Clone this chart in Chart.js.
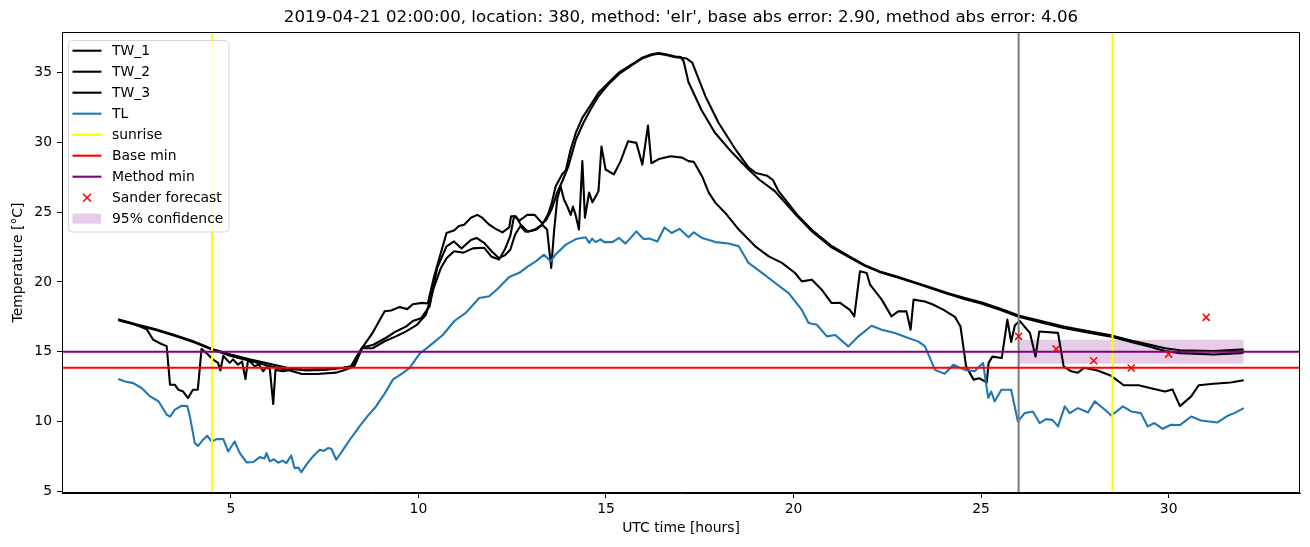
<!DOCTYPE html>
<html><head><meta charset="utf-8">
<script src="https://cdn.jsdelivr.net/npm/chart.js@4/dist/chart.umd.min.js"></script>
<style>html,body{margin:0;padding:0;background:#fff;}#wrap{position:relative;width:1310px;height:547px;}</style>
</head><body><div id="wrap"><canvas id="c" width="1310" height="547"></canvas></div>
<script>
const titleText = "2019-04-21 02:00:00, location: 380, method: 'elr', base abs error: 2.90, method abs error: 4.06";
const xTickValues = [5, 10, 15, 20, 25, 30];
const yTickValues = [5, 10, 15, 20, 25, 30, 35];
const xRange = [0.5, 33.5];
const yRange = [4.88, 37.9];

const tw1Hours = [2.0,2.5,3.0,3.5,4.0,4.5,5.0,5.5,6.0,6.5,7.0,7.5,8.0,8.25,8.5,8.8,9.14,9.4,9.67,9.85,10.07,10.3,10.5,10.75,10.95,11.15,11.4,11.55,11.75,11.95,12.15,12.3,12.45,12.58,12.72,12.85,13.0,13.15,13.3,13.45,13.55,13.66,13.83,13.93,14.06,14.2,14.37,14.6,14.8,15.08,15.35,15.7,15.96,16.22,16.4,16.6,16.85,17.0,17.07,17.2,17.55,17.9,18.35,18.8,19.1,19.5,20.1,20.5,21.0,21.5,21.9,22.3,22.8,23.2,23.6,24.1,24.57,25.0,25.5,26.0,26.6,27.2,27.8,28.5,29.0,29.5,29.9,30.3,31.2,31.9,32.0];
const tw1Temps = [17.3,16.95,16.6,16.2,15.75,15.2,14.8,14.45,14.15,13.85,13.65,13.7,13.85,13.95,15.3,15.5,16.0,16.45,16.8,17.2,17.4,18.25,21.0,22.55,22.9,22.4,23.0,23.15,22.8,22.2,21.7,21.9,22.3,23.4,24.0,23.6,23.65,23.75,24.1,24.8,25.6,26.85,27.7,28.0,29.5,30.7,31.75,32.7,33.55,34.3,35.0,35.6,36.05,36.3,36.4,36.3,36.15,36.1,35.8,34.3,32.3,30.7,29.3,28.05,27.3,26.5,24.7,23.6,22.5,21.75,21.15,20.7,20.3,19.95,19.6,19.15,18.75,18.45,18.0,17.5,17.1,16.7,16.4,16.05,15.7,15.35,15.05,14.9,14.8,14.9,14.95];

const tw2Hours = [2.0,2.5,3.0,3.5,4.0,4.5,5.0,5.5,6.0,6.5,6.9,7.3,7.8,8.1,8.3,8.5,8.78,9.1,9.4,9.67,9.95,10.2,10.4,10.6,10.75,10.95,11.2,11.45,11.75,11.95,12.15,12.3,12.45,12.55,12.7,12.9,13.1,13.3,13.4,13.55,13.7,13.85,14.0,14.2,14.4,14.6,14.8,15.08,15.35,15.7,15.96,16.22,16.4,16.6,16.85,17.0,17.15,17.3,17.65,18.0,18.45,18.8,19.0,19.3,19.45,19.6,20.1,20.5,21.0,21.5,21.9,22.3,22.8,23.2,23.6,24.1,24.57,25.0,25.5,26.0,26.6,27.2,27.8,28.5,29.0,29.5,29.9,30.3,31.2,31.9,32.0];
const tw2Temps = [17.25,16.9,16.55,16.15,15.7,15.15,14.7,14.35,14.0,13.7,13.4,13.4,13.5,13.75,14.0,15.25,15.25,15.75,16.1,16.45,16.9,17.65,19.5,21.0,21.7,22.2,22.1,22.4,22.45,21.8,21.6,22.3,23.3,24.7,24.4,24.8,24.8,24.2,24.4,25.2,26.4,27.3,28.3,30.2,31.4,32.4,33.3,34.2,34.9,35.55,36.0,36.25,36.35,36.25,36.1,36.05,36.0,35.7,33.3,31.4,29.5,28.2,27.8,27.6,27.3,26.5,24.8,23.7,22.6,21.8,21.2,20.75,20.35,20.0,19.65,19.2,18.85,18.55,18.1,17.6,17.2,16.8,16.5,16.15,15.8,15.5,15.25,15.1,15.05,15.15,15.15];

const tw3Hours = [2.0,2.4,2.76,2.93,3.15,3.29,3.38,3.51,3.6,3.73,3.86,3.99,4.12,4.22,4.35,4.53,4.66,4.72,4.8,4.97,5.06,5.19,5.3,5.39,5.46,5.64,5.75,5.86,5.95,6.04,6.13,6.19,6.39,6.7,7.0,7.5,8.0,8.2,8.43,8.78,9.1,9.27,9.5,9.7,9.85,10.1,10.25,10.42,10.75,10.96,11.08,11.22,11.4,11.57,11.7,11.89,12.06,12.24,12.42,12.47,12.6,12.73,12.92,13.1,13.3,13.43,13.54,13.62,13.7,13.79,13.88,13.97,14.06,14.12,14.19,14.28,14.37,14.44,14.55,14.64,14.8,14.88,14.99,15.21,15.39,15.59,15.81,15.97,16.12,16.21,16.41,16.72,17.03,17.2,17.34,17.56,17.74,17.92,18.18,18.54,18.98,19.34,19.69,20.04,20.22,20.49,20.75,21.01,21.24,21.5,21.62,21.77,21.95,22.04,22.35,22.61,22.79,23.01,23.12,23.2,23.5,23.7,24.0,24.3,24.45,24.6,24.8,24.95,25.15,25.2,25.3,25.55,25.7,25.8,25.9,26.03,26.3,26.45,26.55,27.05,27.2,27.4,27.58,27.75,28.1,28.45,28.8,29.2,29.5,29.9,30.1,30.3,30.6,30.8,31.2,31.65,32.0];
const tw3Temps = [17.3,17.0,16.6,15.86,15.55,15.4,12.63,12.63,12.28,12.15,11.68,12.28,12.28,15.2,14.9,14.43,14.2,13.66,14.7,14.2,14.45,14.07,14.3,13.04,14.43,13.95,14.1,13.6,13.9,13.75,11.25,13.7,13.6,13.75,13.7,13.75,13.85,13.95,15.0,16.35,17.9,17.95,18.2,18.05,18.4,18.5,18.45,20.4,23.5,23.7,24.0,24.1,24.6,24.8,24.6,24.1,23.8,23.55,23.9,24.7,24.7,24.1,23.6,23.75,24.1,23.75,21.0,23.75,25.9,26.85,25.9,25.4,24.8,25.4,24.8,23.75,28.65,24.6,26.4,25.7,26.5,29.7,28.05,27.7,28.65,30.08,29.96,28.4,31.2,28.5,28.8,29.0,28.9,28.65,28.6,27.57,26.4,25.66,24.94,23.75,22.55,21.83,21.36,20.64,20.04,20.16,19.44,18.49,18.5,18.0,17.53,20.76,20.64,19.8,18.73,17.53,17.89,17.89,16.58,18.73,18.6,18.4,18.0,17.5,16.8,13.95,13.0,13.1,12.8,14.2,14.65,14.55,17.3,15.7,16.9,17.2,16.35,14.65,16.45,16.35,13.95,13.6,13.5,13.85,13.65,13.3,12.6,12.6,12.4,12.15,12.3,11.1,11.8,12.6,12.7,12.8,12.95];

const tlHours = [2.0,2.18,2.4,2.62,2.85,3.07,3.29,3.38,3.51,3.69,3.84,3.91,4.04,4.13,4.26,4.37,4.49,4.62,4.8,4.93,5.1,5.24,5.42,5.6,5.77,5.9,5.95,6.04,6.15,6.26,6.38,6.48,6.61,6.7,6.8,6.88,7.01,7.19,7.37,7.48,7.59,7.68,7.81,7.99,8.2,8.43,8.65,8.87,9.1,9.32,9.58,9.76,10.03,10.29,10.65,10.96,11.27,11.62,11.89,12.15,12.42,12.69,12.91,13.13,13.35,13.53,13.65,13.93,14.2,14.46,14.55,14.63,14.72,14.86,14.95,15.17,15.35,15.52,15.81,16.0,16.17,16.37,16.56,16.75,16.96,17.2,17.34,17.56,17.92,18.27,18.54,18.8,19.16,19.51,19.87,20.22,20.4,20.62,20.89,21.11,21.46,21.73,22.08,22.35,22.7,23.06,23.32,23.5,23.77,24.03,24.26,24.57,24.83,25.05,25.19,25.27,25.36,25.54,25.8,25.98,26.16,26.38,26.56,26.73,26.9,27.05,27.23,27.36,27.58,27.85,28.03,28.3,28.47,28.78,29.0,29.26,29.44,29.62,29.84,30.06,30.3,30.6,30.86,31.3,31.57,31.75,32.0];
const tlTemps = [13.05,12.87,12.75,12.4,11.8,11.45,10.5,10.35,10.85,11.13,11.1,10.35,8.45,8.26,8.7,8.98,8.57,8.74,8.74,7.85,8.57,7.74,7.07,7.1,7.45,7.35,7.74,7.14,7.3,7.05,7.2,7.02,7.57,6.66,6.7,6.38,6.9,7.5,7.97,7.9,8.1,8.05,7.26,7.97,8.8,9.65,10.4,11.08,12.0,13.0,13.47,13.83,14.85,15.4,16.2,17.2,17.8,18.85,18.97,19.6,20.35,20.65,21.1,21.47,21.95,21.47,21.95,22.67,23.07,23.2,22.8,23.1,22.85,23.05,22.85,22.85,23.15,22.74,23.62,23.07,23.1,22.9,23.9,23.5,23.8,23.2,23.55,23.15,22.85,22.75,22.55,21.36,20.65,19.92,19.2,18.0,17.05,16.93,16.1,16.2,15.38,16.1,16.86,16.58,16.34,15.98,15.74,15.4,13.7,13.42,14.07,13.7,13.6,14.2,11.7,12.15,11.44,12.28,12.28,10.0,10.6,10.72,9.89,10.17,10.12,9.65,11.08,10.6,10.96,10.65,11.44,10.84,10.43,11.08,10.72,10.6,9.65,9.89,9.48,9.77,9.74,10.36,10.07,9.93,10.41,10.6,10.96];

const sunriseHours = [4.5, 28.5];
const forecastStartHour = 26;
const baseMin = 13.85;
const methodMin = 15.0;
const sanderHours = [26, 27, 28, 29, 30, 31];
const sanderTemps = [16.1, 15.2, 14.35, 13.83, 14.83, 17.46];
const bandHours = [26, 32];
const bandLower = [14.14, 14.14];
const bandUpper = [15.86, 15.86];
const legendLabels = ['TW_1', 'TW_2', 'TW_3', 'TL', 'sunrise', 'Base min', 'Method min', 'Sander forecast', '95% confidence'];

const FONT = "'DejaVu Sans', 'Liberation Sans', sans-serif";
const pts = (xs, ys) => xs.map((x, i) => ({x: x, y: ys[i]}));
const vline = x => [{x: x, y: yRange[0]}, {x: x, y: yRange[1]}];
const hline = y => [{x: xRange[0], y: y}, {x: xRange[1], y: y}];
const lineDs = (label, data, color, order, width) => ({
  label, data, borderColor: color, backgroundColor: color, borderWidth: width || 2.1,
  pointRadius: 0, pointHoverRadius: 0, tension: 0, fill: false, order,
  borderJoinStyle: 'round', borderCapStyle: 'butt'
});

const legendItems = [
  {type: 'line', color: '#000'}, {type: 'line', color: '#000'}, {type: 'line', color: '#000'},
  {type: 'line', color: '#1f77b4'}, {type: 'line', color: '#ffff00'}, {type: 'line', color: '#ff0000'},
  {type: 'line', color: '#800080'}, {type: 'marker', color: '#ff0000'}, {type: 'patch', color: 'rgba(128,0,128,0.2)'}
];

const decorPlugin = {
  id: 'decor',
  afterDraw(chart) {
    const ctx = chart.ctx, a = chart.chartArea;
    ctx.save();
    ctx.strokeStyle = '#000'; ctx.lineWidth = 1;
    ctx.strokeRect(Math.round(a.left) + 0.5, Math.round(a.top) + 0.5, Math.round(a.right - a.left) - 1, Math.round(a.bottom - a.top) - 1);
    ctx.fillStyle = '#000';
    ctx.font = '16.67px ' + FONT;
    ctx.textAlign = 'center'; ctx.textBaseline = 'middle';
    ctx.fillText(titleText, (a.left + a.right) / 2, 18);
    const lx = 68.5, ly = 40.5, lw = 160.5, lh = 191.5, r = 4;
    ctx.beginPath();
    ctx.moveTo(lx + r, ly); ctx.lineTo(lx + lw - r, ly); ctx.quadraticCurveTo(lx + lw, ly, lx + lw, ly + r);
    ctx.lineTo(lx + lw, ly + lh - r); ctx.quadraticCurveTo(lx + lw, ly + lh, lx + lw - r, ly + lh);
    ctx.lineTo(lx + r, ly + lh); ctx.quadraticCurveTo(lx, ly + lh, lx, ly + lh - r);
    ctx.lineTo(lx, ly + r); ctx.quadraticCurveTo(lx, ly, lx + r, ly); ctx.closePath();
    ctx.fillStyle = 'rgba(255,255,255,0.8)'; ctx.fill();
    ctx.strokeStyle = 'rgba(204,204,204,0.8)'; ctx.lineWidth = 1; ctx.stroke();
    ctx.font = '13.9px ' + FONT; ctx.textAlign = 'left'; ctx.textBaseline = 'middle';
    legendLabels.forEach((lab, i) => {
      const y = 50.7 + 21 * i, it = legendItems[i];
      if (it.type === 'line') {
        ctx.strokeStyle = it.color; ctx.lineWidth = 2.1;
        ctx.beginPath(); ctx.moveTo(72.5, y); ctx.lineTo(101.5, y); ctx.stroke();
      } else if (it.type === 'marker') {
        ctx.strokeStyle = it.color; ctx.lineWidth = 1.5; const s = 4;
        ctx.beginPath(); ctx.moveTo(87 - s, y - s); ctx.lineTo(87 + s, y + s);
        ctx.moveTo(87 - s, y + s); ctx.lineTo(87 + s, y - s); ctx.stroke();
      } else {
        ctx.fillStyle = it.color; ctx.fillRect(72.5, y - 5, 28.5, 10);
      }
      ctx.fillStyle = '#000';
      ctx.fillText(lab, 112, y + 1);
    });
    ctx.restore();
  }
};

const datasets = [
  {label: 'band low', data: pts(bandHours, bandLower), borderWidth: 0, pointRadius: 0, fill: false, order: 20},
  {label: '95% confidence', data: pts(bandHours, bandUpper), borderWidth: 0, pointRadius: 0,
   fill: {target: 0}, backgroundColor: 'rgba(128,0,128,0.2)', order: 19},
  lineDs('TW_1', pts(tw1Hours, tw1Temps), '#000000', 12),
  lineDs('TW_2', pts(tw2Hours, tw2Temps), '#000000', 11),
  lineDs('TW_3', pts(tw3Hours, tw3Temps), '#000000', 10),
  lineDs('TL', pts(tlHours, tlTemps), '#1f77b4', 9),
  lineDs('sunrise', vline(sunriseHours[0]), '#ffff00', 8),
  lineDs('sunrise 2', vline(sunriseHours[1]), '#ffff00', 7),
  lineDs('forecast start', vline(forecastStartHour), '#808080', 6),
  lineDs('Base min', hline(baseMin), '#ff0000', 5),
  lineDs('Method min', hline(methodMin), '#800080', 4),
  {label: 'Sander forecast', data: pts(sanderHours, sanderTemps), showLine: false, pointStyle: 'crossRot',
   pointRadius: 5, pointHoverRadius: 5, borderColor: '#ff0000', backgroundColor: '#ff0000', pointBorderWidth: 1.5, borderWidth: 1.5, order: 1}
];

const axisCommon = {
  type: 'linear',
  grid: {display: true, drawOnChartArea: false, drawTicks: true, tickLength: 5, tickColor: '#000', tickWidth: 1},
  border: {display: true, color: '#000', width: 1},
};

new Chart(document.getElementById('c'), {
  type: 'line',
  data: {datasets},
  plugins: [decorPlugin],
  options: {
    responsive: false, animation: false, devicePixelRatio: 1,
    layout: {padding: {top: 32, right: 10, left: 0, bottom: 0}},
    plugins: {legend: {display: false}, title: {display: false}, tooltip: {enabled: false}},
    scales: {
      x: Object.assign({}, axisCommon, {
        min: xRange[0], max: xRange[1],
        afterBuildTicks: s => { s.ticks = xTickValues.map(v => ({value: v})); },
        afterFit: s => { s.height = 54; },
        ticks: {color: '#000', font: {family: FONT, size: 13.9}, padding: 3, maxRotation: 0, autoSkip: false},
        title: {display: true, text: 'UTC time [hours]', color: '#000', font: {family: FONT, size: 13.9}, padding: {top: 0, bottom: 10}}
      }),
      y: Object.assign({}, axisCommon, {
        min: yRange[0], max: yRange[1],
        afterBuildTicks: s => { s.ticks = yTickValues.map(v => ({value: v})); },
        afterFit: s => { s.width = 62; },
        ticks: {color: '#000', font: {family: FONT, size: 13.9}, padding: 5, autoSkip: false},
        title: {display: true, text: 'Temperature [°C]', color: '#000', font: {family: FONT, size: 13.9}, padding: {top: 10, bottom: 0}}
      })
    }
  }
});
</script></body></html>
